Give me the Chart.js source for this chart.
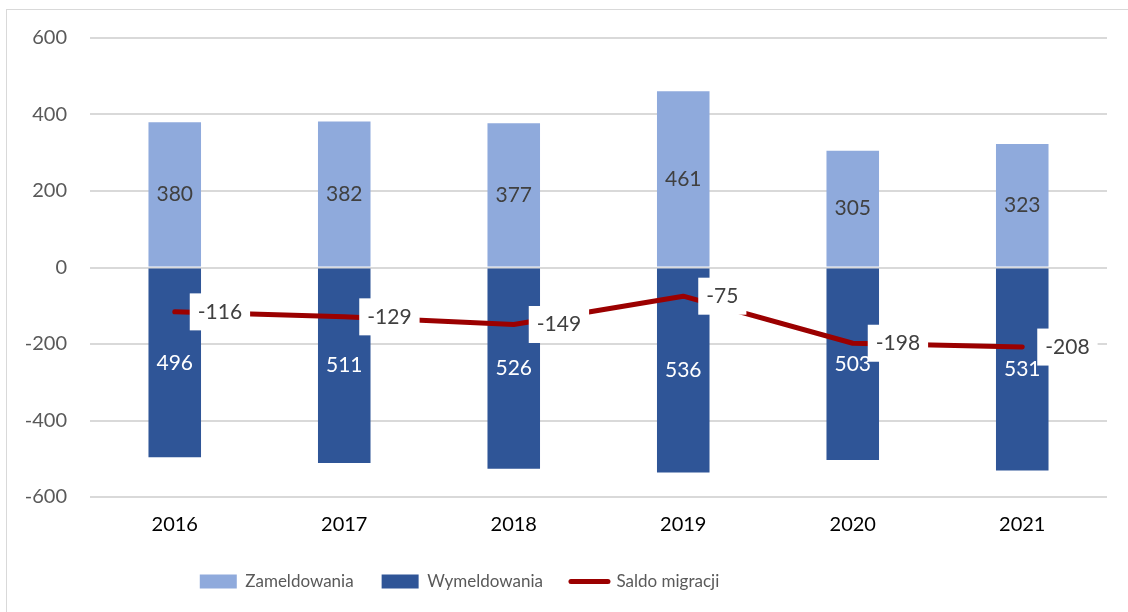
<!DOCTYPE html>
<html><head><meta charset="utf-8">
<script src="https://cdn.jsdelivr.net/npm/chart.js@4.4.1/dist/chart.umd.min.js"></script>
<style>
html,body{margin:0;padding:0;background:#fff;overflow:hidden;}
#wrap{position:absolute;left:0;top:0;width:1128px;height:612px;overflow:hidden;}
#frame{position:absolute;left:6px;top:9px;width:1200px;height:700px;border:1px solid #d9d9d9;}
canvas{position:absolute;left:0;top:0;}
</style></head><body>
<div id="wrap"><div id="frame"></div><canvas id="c" width="1128" height="612"></canvas></div>
<script>
const categories = ['2016','2017','2018','2019','2020','2021'];
const zameldowania = [380, 382, 377, 461, 305, 323];
const wymeldowania = [-496, -511, -526, -536, -503, -531];
const saldo = [-116, -129, -149, -75, -198, -208];
const seriesNames = ['Zameldowania', 'Wymeldowania', 'Saldo migracji'];
const yMin = -600, yMax = 600, yStep = 200;

const colLight = '#8FAADC', colDark = '#2F5597', colLine = '#9B0000';
const FONT = 'Lato';

const labelPlugin = {
  id: 'valueLabels',
  afterDatasetsDraw(chart) {
    const ctx = chart.ctx;
    ctx.save();
    ctx.font = '21px ' + FONT;
    ctx.textAlign = 'center';
    ctx.textBaseline = 'middle';
    [0, 1].forEach(di => {
      const meta = chart.getDatasetMeta(di);
      const ds = chart.data.datasets[di];
      meta.data.forEach((bar, i) => {
        const v = ds.data[i];
        const y = (bar.y + bar.base) / 2;
        ctx.fillStyle = di === 0 ? '#404040' : '#ffffff';
        ctx.fillText(String(Math.abs(v)), bar.x, y);
      });
    });
    const lm = chart.getDatasetMeta(2);
    const lds = chart.data.datasets[2];
    lm.data.forEach((pt, i) => {
      const txt = String(lds.data[i]);
      const w = ctx.measureText(txt).width;
      const padX = 8, h = 37;
      const left = pt.x + 15;
      ctx.fillStyle = '#ffffff';
      ctx.fillRect(left, pt.y - h / 2, w + 2 * padX, h);
      ctx.fillStyle = '#404040';
      ctx.fillText(txt, left + padX + w / 2, pt.y);
    });
    ctx.restore();
  }
};

const legendShift = {
  id: 'legendShift',
  afterLayout(chart) {
    const lg = chart.legend;
    if (lg) { lg.left -= 94; lg.right -= 94; lg.top -= 2; lg.bottom -= 2; }
  }
};

new Chart(document.getElementById('c'), {
  data: {
    labels: categories,
    datasets: [
      { type: 'bar', label: seriesNames[0], data: zameldowania, backgroundColor: colLight,
        barPercentage: 0.31, categoryPercentage: 1, order: 2 },
      { type: 'bar', label: seriesNames[1], data: wymeldowania, backgroundColor: colDark,
        barPercentage: 0.31, categoryPercentage: 1, order: 1 },
      { type: 'line', label: seriesNames[2], data: saldo, borderColor: colLine, backgroundColor: colLine,
        borderWidth: 5, pointRadius: 0, tension: 0, order: 0, borderCapStyle: 'round', borderJoinStyle: 'round' }
    ]
  },
  options: {
    responsive: false,
    animation: false,
    layout: { padding: { left: 0, right: 21, top: 38, bottom: 10 } },
    scales: {
      x: {
        stacked: true,
        grid: { display: false, drawTicks: false },
        border: { display: false },
        ticks: { color: '#000000', font: { family: FONT, size: 20 }, padding: 16 },
        afterFit(axis) { axis.height = 50; }
      },
      y: {
        stacked: true,
        min: yMin, max: yMax,
        ticks: { stepSize: yStep, color: '#595959', font: { family: FONT, size: 20 }, padding: 23 },
        grid: { color: '#d9d9d9', lineWidth: 2, drawTicks: false },
        border: { display: false },
        afterFit(axis) { axis.width = 90; }
      }
    },
    plugins: {
      tooltip: { enabled: false },
      legend: {
        position: 'bottom',
        labels: {
          usePointStyle: true,
          pointStyleWidth: 37,
          boxHeight: 14,
          padding: 28,
          color: '#595959',
          font: { family: FONT, size: 17 },
          sort: (a, b) => a.datasetIndex - b.datasetIndex,
          generateLabels(chart) {
            const items = Chart.defaults.plugins.legend.labels.generateLabels(chart);
            items.forEach(it => {
              const i = it.datasetIndex;
              if (i === 2) {
                it.pointStyle = 'line'; it.lineWidth = 5; it.strokeStyle = colLine; it.lineCap = 'round';
              } else {
                it.pointStyle = 'rect'; it.lineWidth = 0;
                it.fillStyle = i === 0 ? colLight : colDark;
              }
            });
            return items;
          }
        }
      }
    }
  },
  plugins: [labelPlugin, legendShift]
});
</script>
</body></html>
